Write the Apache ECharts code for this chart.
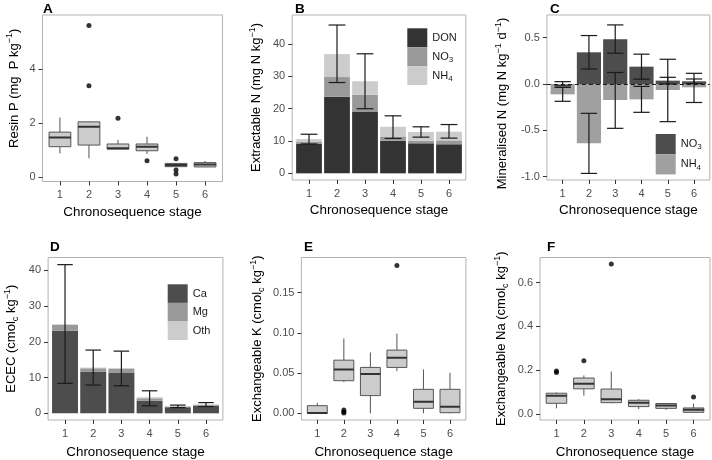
<!DOCTYPE html>
<html>
<head>
<meta charset="utf-8">
<title>Chronosequence stage panels</title>
<script src="https://cdn.jsdelivr.net/npm/echarts@6/dist/echarts.min.js"></script>
<style>
  html, body { margin: 0; padding: 0; background: #fff; }
  #chart { width: 712px; height: 460px; }
</style>
</head>
<body>
<div id="chart"></div>
<script>
// chronosequence stages, x of every panel
const stages = [1, 2, 3, 4, 5, 6]

// A: resin P (boxplots)
const resinLow = [0.87, 0.69, 1.03, 0.85, 0.36, 0.36]
const resinQ1 = [1.12, 1.18, 1.03, 0.97, 0.38, 0.37]
const resinMed = [1.46, 1.86, 1.06, 1.12, 0.44, 0.46]
const resinQ3 = [1.66, 2.04, 1.22, 1.22, 0.50, 0.53]
const resinHigh = [2.20, 2.06, 1.37, 1.49, 0.52, 0.59]
const resinOut = [[2, 5.61], [2, 3.38], [3, 2.17], [4, 0.60], [5, 0.67], [5, 0.26], [5, 0.11]]

// B: extractable N (stacked bars + error of total)
const extDON = [9.2, 23.7, 19.1, 10.1, 9.3, 9.0]
const extNO3 = [0.5, 6.1, 5.2, 1.3, 0.8, 1.2]
const extNH4 = [0.9, 7.1, 4.2, 3.0, 2.7, 2.7]
const extErrLo = [9.1, 28.1, 20.0, 10.8, 11.2, 10.9]
const extErrHi = [12.1, 45.9, 37.0, 17.8, 14.4, 15.1]

// C: mineralised N (bars from zero)
const minNO3 = [0.0, 0.342, 0.483, 0.187, 0.036, 0.029]
const minNO3Lo = [-0.02, 0.162, 0.332, 0.052, 0.0, 0.004]
const minNO3Hi = [0.025, 0.523, 0.638, 0.322, 0.072, 0.054]
const minNH4 = [-0.112, -0.641, -0.173, -0.166, -0.065, -0.036]
const minNH4Lo = [-0.187, -0.966, -0.479, -0.306, -0.407, -0.20]
const minNH4Hi = [-0.037, -0.317, 0.124, -0.026, 0.267, 0.115]

// D: ECEC (stacked bars + error of total)
const ecCa = [23.1, 11.6, 11.4, 3.5, 1.7, 2.05]
const ecMg = [1.7, 1.0, 1.1, 0.7, 0.2, 0.25]
const ecOth = [0.1, 0.2, 0.2, 0.3, 0.15, 0.2]
const ecErrLo = [8.4, 7.9, 7.7, 2.1, 1.6, 1.9]
const ecErrHi = [41.6, 17.7, 17.4, 6.3, 2.3, 3.0]

// E: exchangeable K (boxplots)
const kLow = [0.0, 0.039, 0.0, 0.0525, 0.0, 0.0]
const kQ1 = [0.0, 0.0405, 0.022, 0.057, 0.0062, 0.0008]
const kMed = [0.0005, 0.0545, 0.0488, 0.069, 0.0145, 0.0083]
const kQ3 = [0.0095, 0.066, 0.057, 0.0785, 0.0298, 0.0298]
const kHigh = [0.0132, 0.093, 0.0756, 0.099, 0.0545, 0.0504]
const kOut = [[2, 0.004], [2, 0.002], [2, 0.0005], [4, 0.1835]]

// F: exchangeable Na (boxplots)
const naLow = [0.027, 0.085, 0.05, 0.024, 0.02, 0.006]
const naQ1 = [0.05, 0.116, 0.053, 0.035, 0.027, 0.009]
const naMed = [0.084, 0.139, 0.069, 0.053, 0.04, 0.021]
const naQ3 = [0.096, 0.165, 0.115, 0.064, 0.049, 0.029]
const naHigh = [0.1, 0.177, 0.195, 0.069, 0.052, 0.049]
const naOut = [[1, 0.197], [1, 0.19], [2, 0.244], [3, 0.684], [6, 0.079]]

const FONT = 'Liberation Sans, Arial, Helvetica, sans-serif'

// panel geometry (px) and y ranges
const panels = [
  { letter: 'A', left: 42.5, top: 15, width: 180, height: 166.5, min: -0.17, max: 6.0, ticks: [0, 2, 4], dec: 0, gap: 20, lx: 43, ly: 2, name: 'Resin P (mg  P kg{sup|−1})', pad: [0, 0, 0, 20] },
  { letter: 'B', left: 292.2, top: 15, width: 173.6, height: 165, min: -2.06, max: 49.0, ticks: [0, 10, 20, 30, 40], dec: 0, gap: 27, lx: 295, ly: 2, name: 'Extractable N (mg N kg{sup|−1})' },
  { letter: 'C', left: 546.9, top: 15, width: 162.9, height: 165, min: -1.037, max: 0.745, ticks: [-1, -0.5, 0, 0.5], dec: 1, gap: 36, lx: 550, ly: 2, name: 'Mineralised N (mg N kg{sup|−1} d{sup|−1})', pad: [0, 12, 0, 0] },
  { letter: 'D', left: 48.1, top: 257.5, width: 174.8, height: 162.5, min: -1.87, max: 43.6, ticks: [0, 10, 20, 30, 40], dec: 0, gap: 28, lx: 50, ly: 240, name: 'ECEC (cmol{sub|c} kg{sup|−1})' },
  { letter: 'E', left: 301.4, top: 257.5, width: 164.5, height: 162.5, min: -0.0083, max: 0.1935, ticks: [0, 0.05, 0.1, 0.15], dec: 2, gap: 35, lx: 304, ly: 240, name: 'Exchangeable K (cmol{sub|c} kg{sup|−1})' },
  { letter: 'F', left: 540, top: 257.5, width: 170, height: 162.5, min: -0.026, max: 0.714, ticks: [0, 0.2, 0.4, 0.6], dec: 1, gap: 30, lx: 547, ly: 240, name: 'Exchangeable Na (cmol{sub|c} kg{sup|−1})' }
]

const boxRows = (lo, q1, med, q3, hi) => stages.map((s, i) => [s, lo[i], q1[i], med[i], q3[i], hi[i]])

function stackRows(parts) {
  const rows = parts.map(() => [])
  stages.forEach((s, i) => {
    let base = 0
    parts.forEach((p, k) => {
      rows[k].push([s, base, base + p[i]])
      base += p[i]
    })
  })
  return rows
}

const errRows = (lo, hi) => stages.map((s, i) => [s, lo[i], hi[i]])
const zeroRows = (v) => stages.map((s, i) => [s, 0, v[i]])

function renderBox(params, api) {
  const x = api.value(0)
  const hw = 0.375
  const tl = api.coord([x - hw, api.value(4)])
  const br = api.coord([x + hw, api.value(2)])
  const top = api.coord([x, api.value(5)])
  const bot = api.coord([x, api.value(1)])
  const m = api.coord([x, api.value(3)])
  const wStyle = { stroke: '#555', lineWidth: 1 }
  return {
    type: 'group',
    children: [
      { type: 'line', shape: { x1: top[0], y1: top[1], x2: top[0], y2: tl[1] }, style: wStyle },
      { type: 'line', shape: { x1: bot[0], y1: bot[1], x2: bot[0], y2: br[1] }, style: wStyle },
      { type: 'rect', shape: { x: tl[0], y: tl[1], width: br[0] - tl[0], height: br[1] - tl[1] }, style: { fill: '#cccccc', stroke: '#555', lineWidth: 1 } },
      { type: 'line', shape: { x1: tl[0], y1: m[1], x2: br[0], y2: m[1] }, style: { stroke: '#333', lineWidth: 2 } }
    ]
  }
}

function renderBar(width) {
  return function (params, api) {
    const x = api.value(0)
    const a = api.coord([x - width / 2, api.value(2)])
    const b = api.coord([x + width / 2, api.value(1)])
    return {
      type: 'rect',
      shape: { x: a[0], y: Math.min(a[1], b[1]), width: b[0] - a[0], height: Math.abs(b[1] - a[1]) },
      style: { fill: api.visual('color') }
    }
  }
}

function renderErr(cap) {
  return function (params, api) {
    const x = api.value(0)
    const lo = api.coord([x, api.value(1)])
    const hi = api.coord([x, api.value(2)])
    const l = api.coord([x - cap / 2, 0])[0]
    const r = api.coord([x + cap / 2, 0])[0]
    const st = { stroke: '#1a1a1a', lineWidth: 1.2 }
    return {
      type: 'group',
      children: [
        { type: 'line', shape: { x1: lo[0], y1: lo[1], x2: hi[0], y2: hi[1] }, style: st },
        { type: 'line', shape: { x1: l, y1: hi[1], x2: r, y2: hi[1] }, style: st },
        { type: 'line', shape: { x1: l, y1: lo[1], x2: r, y2: lo[1] }, style: st }
      ]
    }
  }
}

const rich = {
  sup: { fontSize: 9, fontFamily: FONT, verticalAlign: 'top', lineHeight: 17 },
  sub: { fontSize: 9, fontFamily: FONT, verticalAlign: 'bottom', lineHeight: 17 }
}

const grid = panels.map(p => ({
  left: p.left, top: p.top, width: p.width, height: p.height,
  show: true, borderColor: '#b3b3b3', borderWidth: 1, backgroundColor: '#fff'
}))

const xAxis = panels.map((p, i) => ({
  type: 'value', gridIndex: i, min: 0.4, max: 6.6,
  name: 'Chronosequence stage', nameLocation: 'middle', nameGap: i < 3 ? 24 : 26,
  nameTextStyle: { fontFamily: FONT, fontSize: 13.4, color: '#000' },
  axisLine: { show: false, onZero: false },
  axisTick: { show: true, length: 4, customValues: stages, lineStyle: { color: '#333' } },
  axisLabel: { customValues: stages, margin: 8, fontFamily: FONT, fontSize: 11, color: '#4d4d4d' },
  splitLine: { show: false }
}))

const yAxis = panels.map((p, i) => ({
  type: 'value', gridIndex: i, min: p.min, max: p.max,
  name: p.name, nameLocation: 'middle', nameGap: p.gap, nameRotate: 90,
  nameTextStyle: { fontFamily: FONT, fontSize: 13, color: '#000', lineHeight: 17, rich: rich, padding: p.pad || 0 },
  axisLine: { show: false, onZero: false },
  axisTick: { show: true, length: 4, customValues: p.ticks, lineStyle: { color: '#333' } },
  axisLabel: {
    customValues: p.ticks, margin: 7, fontFamily: FONT, fontSize: 11, color: '#4d4d4d',
    formatter: v => v.toFixed(p.dec)
  },
  splitLine: { show: false }
}))

const title = panels.map(p => ({
  text: p.letter, left: p.lx, top: p.ly, padding: 0,
  textStyle: { fontFamily: FONT, fontSize: 13.5, fontWeight: 'bold', color: '#000' }
}))

const legendBase = {
  orient: 'vertical', padding: 0, itemGap: 0, itemWidth: 20, icon: 'rect',
  selectedMode: false,
  textStyle: { fontFamily: FONT, fontSize: 11, color: '#1a1a1a', rich: { sub: { fontSize: 8, fontFamily: FONT, verticalAlign: 'bottom', lineHeight: 14 } } }
}
const labelOf = {
  bDON: 'DON', bNO3: 'NO{sub|3}', bNH4: 'NH{sub|4}',
  cNO3: 'NO{sub|3}', cNH4: 'NH{sub|4}',
  dCa: 'Ca', dMg: 'Mg', dOth: 'Oth'
}
const legend = [
  Object.assign({}, legendBase, { left: 407.3, top: 28.3, itemHeight: 18.9, data: ['bDON', 'bNO3', 'bNH4'], formatter: n => labelOf[n] }),
  Object.assign({}, legendBase, { left: 655.7, top: 134, itemHeight: 20.2, data: ['cNO3', 'cNH4'], formatter: n => labelOf[n] }),
  Object.assign({}, legendBase, { left: 167.7, top: 284.3, itemHeight: 18.6, data: ['dCa', 'dMg', 'dOth'], formatter: n => labelOf[n] })
]

const series = []
function boxPanel(idx, rows, outliers) {
  series.push({ type: 'custom', xAxisIndex: idx, yAxisIndex: idx, renderItem: renderBox, data: rows, clip: true })
  series.push({
    type: 'scatter', xAxisIndex: idx, yAxisIndex: idx, data: outliers,
    symbolSize: 5, itemStyle: { color: '#000' }, z: 3
  })
}

boxPanel(0, boxRows(resinLow, resinQ1, resinMed, resinQ3, resinHigh), resinOut)

const bStack = stackRows([extDON, extNO3, extNH4])
const bColors = ['#333333', '#999999', '#cccccc']
;['bDON', 'bNO3', 'bNH4'].forEach((n, k) => {
  series.push({ type: 'custom', name: n, xAxisIndex: 1, yAxisIndex: 1, renderItem: renderBar(0.92), data: bStack[k], itemStyle: { color: bColors[k] } })
})
series.push({ type: 'custom', xAxisIndex: 1, yAxisIndex: 1, renderItem: renderErr(0.6), data: errRows(extErrLo, extErrHi), z: 4 })

series.push({ type: 'custom', name: 'cNO3', xAxisIndex: 2, yAxisIndex: 2, renderItem: renderBar(0.92), data: zeroRows(minNO3), itemStyle: { color: '#4d4d4d' } })
series.push({ type: 'custom', name: 'cNH4', xAxisIndex: 2, yAxisIndex: 2, renderItem: renderBar(0.92), data: zeroRows(minNH4), itemStyle: { color: '#a0a0a0' } })
series.push({ type: 'custom', xAxisIndex: 2, yAxisIndex: 2, renderItem: renderErr(0.62), data: errRows(minNO3Lo, minNO3Hi), z: 4 })
series.push({
  type: 'custom', xAxisIndex: 2, yAxisIndex: 2, renderItem: renderErr(0.62), data: errRows(minNH4Lo, minNH4Hi), z: 4,
  markLine: {
    silent: true, symbol: 'none', label: { show: false },
    lineStyle: { color: '#1a1a1a', type: [4, 3], width: 1 },
    data: [{ yAxis: 0 }]
  }
})

const dStack = stackRows([ecCa, ecMg, ecOth])
const dColors = ['#4d4d4d', '#999999', '#cccccc']
;['dCa', 'dMg', 'dOth'].forEach((n, k) => {
  series.push({ type: 'custom', name: n, xAxisIndex: 3, yAxisIndex: 3, renderItem: renderBar(0.92), data: dStack[k], itemStyle: { color: dColors[k] } })
})
series.push({ type: 'custom', xAxisIndex: 3, yAxisIndex: 3, renderItem: renderErr(0.55), data: errRows(ecErrLo, ecErrHi), z: 4 })

boxPanel(4, boxRows(kLow, kQ1, kMed, kQ3, kHigh), kOut)
boxPanel(5, boxRows(naLow, naQ1, naMed, naQ3, naHigh), naOut)

const chart = echarts.init(document.getElementById('chart'), null, { renderer: 'canvas' })
chart.setOption({
  animation: false,
  backgroundColor: '#fff',
  title: title,
  legend: legend,
  grid: grid,
  xAxis: xAxis,
  yAxis: yAxis,
  series: series
})
</script>
</body>
</html>
